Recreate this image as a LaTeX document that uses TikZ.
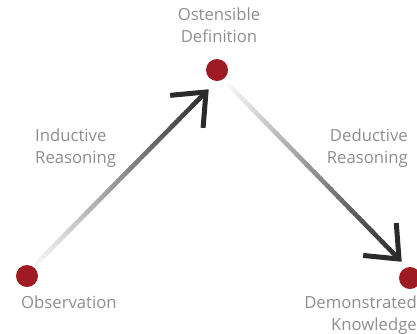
\documentclass[tikz,border=0pt]{standalone}
\usepackage{fontspec}
\setmainfont{Open Sans}
\usepackage{xcolor}
\usetikzlibrary{calc}
\definecolor{cDot}{HTML}{9E1B24}
\definecolor{cText}{HTML}{8E8E8E}
\definecolor{cInk}{HTML}{2B2B2B}
\tikzset{
  reddot/.style={circle,fill=cDot,minimum size=22pt,inner sep=0pt},
  lab/.style={font=\fontsize{16.7}{22}\selectfont,text=cText,inner sep=0pt},
  shaft/.style={line width=4.5pt,line cap=butt},
  head/.style={draw=cInk,line width=5pt,line join=miter,line cap=butt},
}
\begin{document}
\begin{tikzpicture}[x=1pt,y=-1pt]
  \useasboundingbox (0,0) rectangle (417,333);
  \clip (0,0) rectangle (417,333);
  % the three stations
  \node[reddot] (obs) at (27,276) {};
  \node[reddot] (osd) at (217,70) {};
  \node[reddot] (dk) at (410,278) {};
  % labels
  \node[lab,anchor=north,align=center] (osdlab) at (219,8) {Ostensible\\Definition};
  \node[lab,anchor=base west] (obslab) at (21,308) {Observation};
  \node[lab,anchor=north east,align=right] (dklab) at (417,296) {Demonstrated\\Knowledge};
  \node[lab,anchor=north west,align=left] (indlab) at (35,129) {Inductive\\Reasoning};
  \node[lab,anchor=north east,align=right] (dedlab) at (408,129) {Deductive\\Reasoning};
  % shaft ends
  \coordinate (i0) at (36,264); \coordinate (i1) at (206,92);
  \coordinate (d0) at (228,84); \coordinate (d1) at (399,259);
  % faded shafts, light at the tail and dark at the head
  \foreach \s/\e in {i0/i1,d0/d1}{
    \foreach \k in {0,...,49}{
      \pgfmathsetmacro\ta{\k/50}
      \pgfmathsetmacro\tb{min(1,(\k+1.3)/50)}
      \pgfmathsetmacro\tone{4+96*\k/49}
      \draw[shaft,draw=cInk!\tone!white] ($(\s)!\ta!(\e)$) -- ($(\s)!\tb!(\e)$);
    }
    \draw[head] ($(\e)!36pt!40:(\s)$) -- (\e) -- ($(\e)!36pt!-40:(\s)$);
  }
\end{tikzpicture}
\end{document}
